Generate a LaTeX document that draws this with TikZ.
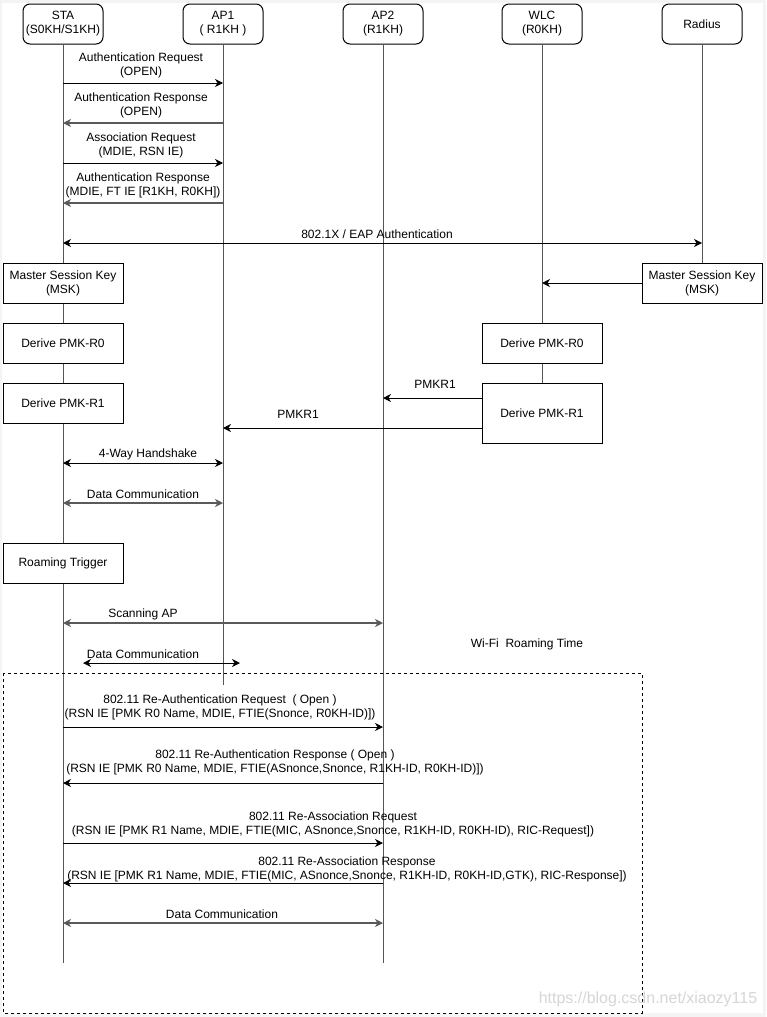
\documentclass[tikz,border=0pt]{standalone}
\usepackage{fontspec}
\setmainfont{Liberation Sans}
\usetikzlibrary{arrows.meta}
\definecolor{margin}{HTML}{F4F4F4}
\definecolor{lifec}{HTML}{555555}
\definecolor{greyarrow}{HTML}{5A5A5A}
\definecolor{wmark}{HTML}{D6D6D6}
\begin{document}
\begin{tikzpicture}[x=1pt,y=-1pt,
  every node/.style={font=\fontsize{12}{14}\selectfont, align=center, inner sep=0pt},
  head/.style={draw, line width=1pt, rounded corners=7pt, minimum width=80pt, minimum height=40pt, fill=white},
  box/.style={draw, line width=1pt, minimum width=120pt, minimum height=40pt, fill=white},
  life/.style={draw=lifec, line width=1pt},
  tip/.style={-{Stealth[length=8pt,width=8pt,inset=2.5pt]}},
  bitip/.style={{Stealth[length=8pt,width=8pt,inset=2.5pt]}-{Stealth[length=8pt,width=8pt,inset=2.5pt]}},
  msg/.style={tip, line width=1pt},
  gmsg/.style={tip, line width=1.5pt, draw=greyarrow},
  bmsg/.style={bitip, line width=1pt},
  gbmsg/.style={bitip, line width=1.6pt, draw=greyarrow},
  roam/.style={draw, line width=0.8pt, dash pattern=on 3pt off 3pt},
  lbl/.style={yshift=-1pt},
]
% background
\fill[margin] (0,0) rectangle (766,1017);
\fill[white] (2,3) rectangle (763,1013);
\useasboundingbox (0,0) rectangle (766,1017);

% headers
\node[head] (sta) at (63,24) {STA\\(S0KH/S1KH)};
\node[head] (ap1) at (223,24) {AP1\\( R1KH )};
\node[head] (ap2) at (383,24) {AP2\\(R1KH)};
\node[head] (wlc) at (542,24) {WLC\\(R0KH)};
\node[head] (rad) at (702,24) {Radius};

% lifeline ends
\coordinate (staend) at (63,963);
\coordinate (ap1end) at (223,685);
\coordinate (ap2end) at (383,963);
\coordinate (wlcend) at (542,323);
\coordinate (radend) at (702,263);

\draw[life] (sta.south) -- (staend);
\draw[life] (ap1.south) -- (ap1end);
\draw[life] (ap2.south) -- (ap2end);
\draw[life] (wlc.south) -- (wlcend);
\draw[life] (rad.south) -- (radend);

% dashed roaming region
\draw[roam] (3,673) rectangle (642,1013);

% boxes
\node[box] (smsk) at (63,283) {Master Session Key\\(MSK)};
\node[box] (sr0) at (63,343) {Derive PMK-R0};
\node[box] (sr1) at (63,403) {Derive PMK-R1};
\node[box] (rmsk) at (702,283) {Master Session Key\\(MSK)};
\node[box] (wr0) at (542,343) {Derive PMK-R0};
\node[box, minimum height=60pt] (wr1) at (542,413) {Derive PMK-R1};
\node[box] (trig) at (63,563) {Roaming Trigger};
\draw[life] (wr0.south) -- (wr1.north);

% open auth / assoc
\node[lbl] (l1) at (141,64) {Authentication Request\\(OPEN)};
\draw[msg] (sta.south |- 0,83) -- (ap1.south |- 0,83);
\node[lbl] (l2) at (141,104) {Authentication Response\\(OPEN)};
\draw[gmsg] (ap1.south |- 0,123) -- (sta.south |- 0,123);
\node[lbl] (l3) at (141,144) {Association Request\\(MDIE, RSN IE)};
\draw[msg] (sta.south |- 0,163) -- (ap1.south |- 0,163);
\node[lbl] (l4) at (143,184) {Authentication Response\\(MDIE, FT IE [R1KH, R0KH])};
\draw[gmsg] (ap1.south |- 0,203) -- (sta.south |- 0,203);

% EAP
\node[lbl] (l5) at (377,233) {802.1X / EAP Authentication};
\draw[bmsg] (sta.south |- 0,243) -- (rad.south |- 0,243);

% key distribution
\draw[msg] (rmsk.west) -- (wlc.south |- rmsk.west);
\node[lbl] (l6) at (435,383) {PMKR1};
\draw[msg] (wr1.west |- 0,398) -- (ap2.south |- 0,398);
\node[lbl] (l7) at (298,413) {PMKR1};
\draw[msg] (wr1.west |- 0,428) -- (ap1.south |- 0,428);

% handshake & data
\node[lbl] (l8) at (148,453) {4-Way Handshake};
\draw[bmsg] (sta.south |- 0,463) -- (ap1.south |- 0,463);
\node[lbl] (l9) at (143,493) {Data Communication};
\draw[gbmsg] (sta.south |- 0,503) -- (ap1.south |- 0,503);

% scanning
\node[lbl] (l10) at (143,613) {Scanning AP};
\draw[gbmsg] (sta.south |- 0,623) -- (ap2.south |- 0,623);
\coordinate (dc1) at (83,663);
\coordinate (dc2) at (240,663);
\node[lbl] (l11) at (143,653) {Data Communication};
\draw[bmsg] (dc1) -- (dc2);
\node[lbl] (rt) at (527,643) {Wi-Fi\ \ Roaming Time};

% FT roaming
\node[lbl] (l12) at (220,706) {802.11 Re-Authentication Request\ \ ( Open )\\(RSN IE [PMK R0 Name, MDIE, FTIE(Snonce, R0KH-ID)])};
\draw[msg] (sta.south |- 0,727) -- (ap2.south |- 0,727);
\node[lbl] (l13) at (275,761) {802.11 Re-Authentication Response ( Open )\\(RSN IE [PMK R0 Name, MDIE, FTIE(ASnonce,Snonce, R1KH-ID, R0KH-ID)])};
\draw[msg] (ap2.south |- 0,783) -- (sta.south |- 0,783);
\node[lbl] (l14) at (333,823) {802.11 Re-Association Request\\(RSN IE [PMK R1 Name, MDIE, FTIE(MIC, ASnonce,Snonce, R1KH-ID, R0KH-ID), RIC-Request])};
\draw[msg] (sta.south |- 0,843) -- (ap2.south |- 0,843);
\node[lbl] (l15) at (347,868) {802.11 Re-Association Response\\(RSN IE [PMK R1 Name, MDIE, FTIE(MIC, ASnonce,Snonce, R1KH-ID, R0KH-ID,GTK), RIC-Response])};
\draw[msg] (ap2.south |- 0,883) -- (sta.south |- 0,883);
\node[lbl] (l16) at (222,913) {Data Communication};
\draw[gbmsg] (sta.south |- 0,923) -- (ap2.south |- 0,923);

% watermark
\node[text=wmark, font=\fontsize{16}{18}\selectfont] (wm) at (648,999) {https://blog.csdn.net/xiaozy115};
\end{tikzpicture}
\end{document}
